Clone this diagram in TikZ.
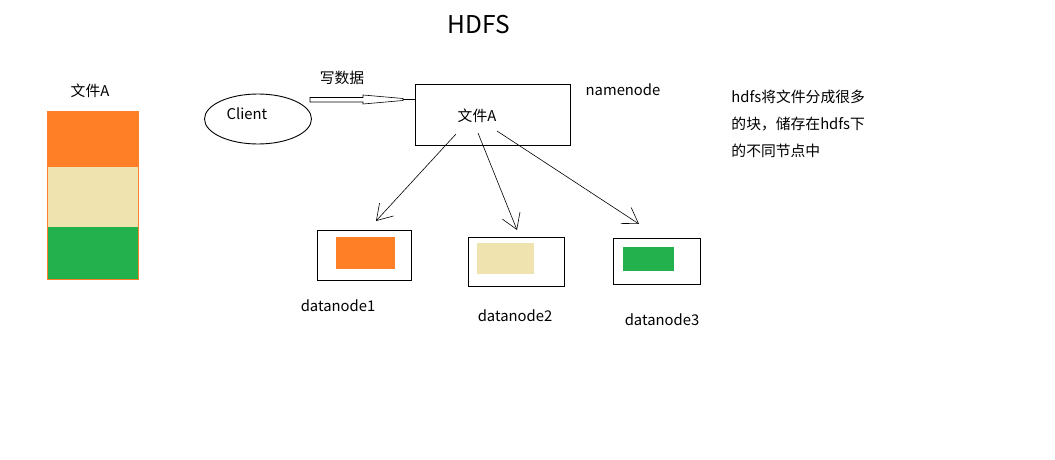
\documentclass[tikz,border=0pt]{standalone}
\usepackage{fontspec}
\setmainfont{Noto Sans CJK SC}
\usetikzlibrary{shapes.geometric,arrows.meta}
\definecolor{paintorange}{HTML}{FF7F27}
\definecolor{paintbeige}{HTML}{EFE4B0}
\definecolor{paintgreen}{HTML}{22B14C}
\begin{document}
\begin{tikzpicture}[x=1pt, y=-1pt, line width=0.9pt,
    every node/.style={font=\fontsize{14.8}{18}\selectfont, inner sep=0pt},
    box/.style={draw, minimum width=#1},
    block/.style={fill=#1, draw=none},
    splitarrow/.style={line width=0.6pt, -{Straight Barb[length=15pt,width=19pt,line width=0.6pt]}}]
    \useasboundingbox (0,0) rectangle (1055,460);
    \node (title) at (479,25) {\fontsize{24.5}{28}\selectfont HDFS};
    % file A, split into three blocks
    \node (filelabel) at (90,91) {文件A};
    \fill[paintorange] (47,111) rectangle (138,167);
    \fill[paintbeige] (47,167) rectangle (138,227);
    \fill[paintgreen] (47,227) rectangle (138,279);
    \draw[paintorange, line width=0.6pt] (47,111) rectangle (138,279);
    % client writes to the namenode
    \node[draw, ellipse, minimum width=107pt, minimum height=50pt] (client) at (258,119) {};
    \node (clientlabel) at (247,114) {Client};
    \node (write) at (342,78) {写数据};
    \node[box=155pt, minimum height=61pt] (nn) at (492.5,114.5) {};
    \node (nnfile) at (477,116) {文件A};
    \node (nnlabel) at (623,90) {namenode};
    \coordinate (nnin) at (nn.west |- 0,99.5);
    \draw[line width=0.6pt] (310,97.5) -- (363,97.5) -- (363,95) -- (403,98.5) -- (403,100.5)
        -- (363,104) -- (363,102) -- (310,102) -- cycle;
    \draw[line width=1.6pt] (403,99.5) -- (nnin);
    % datanodes
    \node[box=94pt, minimum height=50pt] (dn1) at (364,255) {};
    \node[block=paintorange, minimum width=59pt, minimum height=32pt] (blk1) at (365.5,253) {};
    \node (dn1label) at (338,306) {datanode1};
    \node[box=96pt, minimum height=49pt] (dn2) at (516,261.5) {};
    \node[block=paintbeige, minimum width=57pt, minimum height=31pt] (blk2) at (505.5,258.5) {};
    \node (dn2label) at (515,316) {datanode2};
    \node[box=87pt, minimum height=46pt] (dn3) at (656.5,261) {};
    \node[block=paintgreen, minimum width=51pt, minimum height=24pt] (blk3) at (648.5,259) {};
    \node (dn3label) at (662,320) {datanode3};
    % block placement
    \coordinate (out1) at (456,134);
    \coordinate (out2) at (478,133);
    \coordinate (out3) at (497,131);
    \coordinate (in1) at (376,221);
    \coordinate (in2) at (517,230);
    \coordinate (in3) at (639,224);
    \foreach \i in {1,2,3}
        \draw[splitarrow] (out\i) -- (in\i);
    \node[anchor=north west, align=left, font=\fontsize{14.8}{27}\selectfont] (note) at (731,90)
        {hdfs将文件分成很多\\的块，储存在hdfs下\\的不同节点中};
\end{tikzpicture}
\end{document}
